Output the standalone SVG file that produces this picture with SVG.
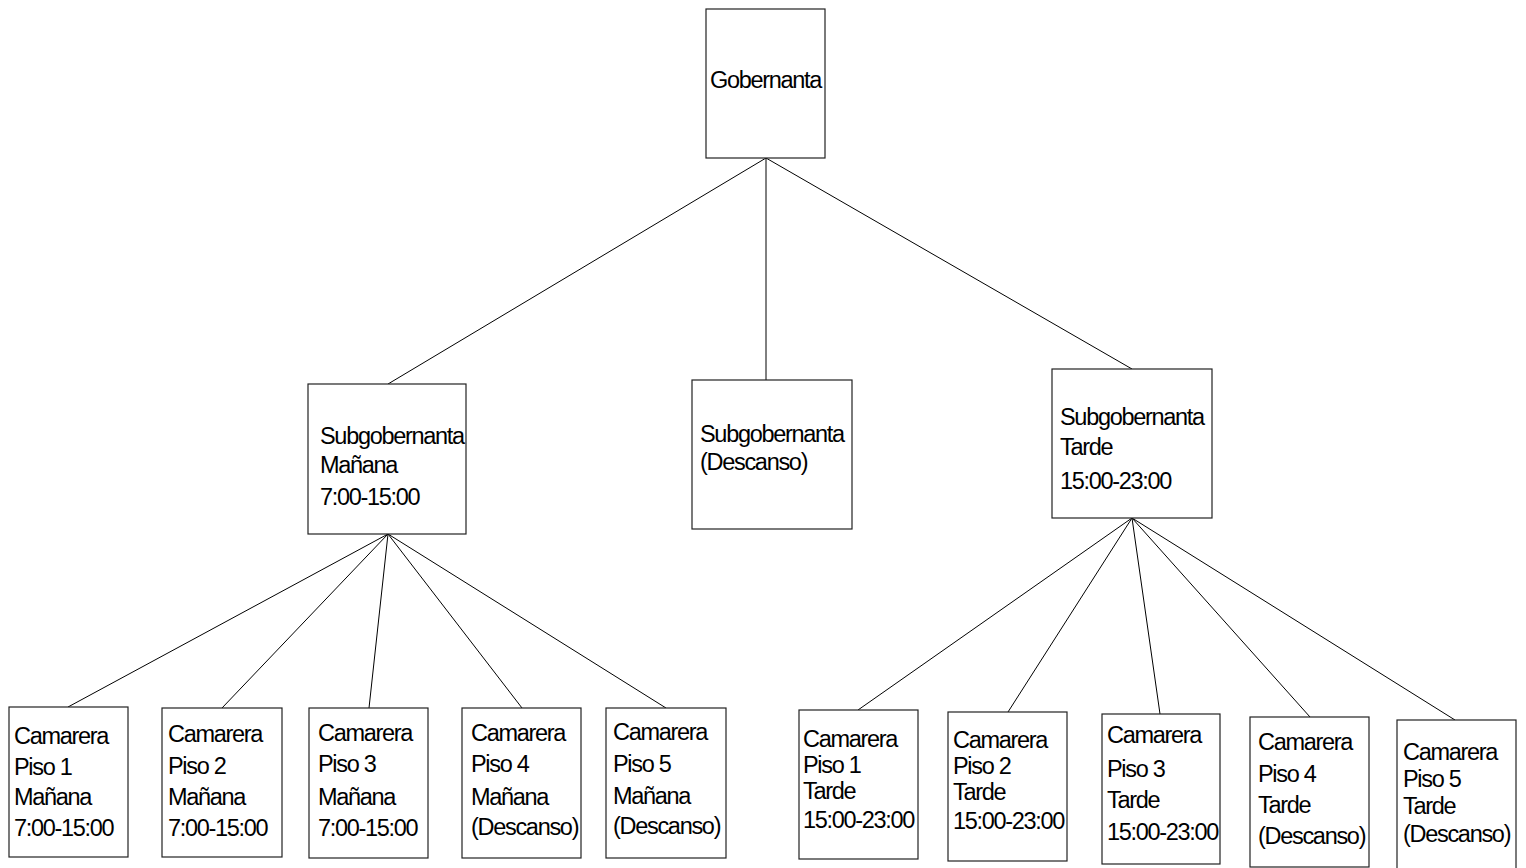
<svg xmlns="http://www.w3.org/2000/svg" width="1526" height="868" viewBox="0 0 1526 868">
<style>
rect{fill:#fff;stroke:#222;stroke-width:1.2}
line{stroke:#000;stroke-width:1}
text{font-family:"Liberation Sans",Arial,sans-serif;font-size:23.5px;fill:#000;letter-spacing:-1.3px}
</style>
<rect x="0" y="0" width="1526" height="868" style="stroke:none"/>
<g id="connectors">
<line x1="766" y1="158" x2="388" y2="384"/>
<line x1="766" y1="158" x2="766" y2="380"/>
<line x1="766" y1="158" x2="1132" y2="369"/>
<line x1="388" y1="534" x2="68" y2="707"/>
<line x1="388" y1="534" x2="222" y2="708"/>
<line x1="388" y1="534" x2="369" y2="708"/>
<line x1="388" y1="534" x2="522" y2="708"/>
<line x1="388" y1="534" x2="666" y2="708"/>
<line x1="1132" y1="518" x2="858" y2="710"/>
<line x1="1132" y1="518" x2="1008" y2="712"/>
<line x1="1132" y1="518" x2="1160" y2="714"/>
<line x1="1132" y1="518" x2="1310" y2="717"/>
<line x1="1132" y1="518" x2="1455" y2="720"/>
</g>
<g id="gobernanta">
<rect x="706" y="9" width="119" height="149"/>
<text x="710" y="88">Gobernanta</text>
</g>
<g id="sub-manana">
<rect x="308" y="384" width="158" height="150"/>
<text x="320" y="444">Subgobernanta</text>
<text x="320" y="473">Mañana</text>
<text x="320" y="505">7:00-15:00</text>
</g>
<g id="sub-descanso">
<rect x="692" y="380" width="160" height="149"/>
<text x="700" y="442">Subgobernanta</text>
<text x="700" y="470">(Descanso)</text>
</g>
<g id="sub-tarde">
<rect x="1052" y="369" width="160" height="149"/>
<text x="1060" y="425">Subgobernanta</text>
<text x="1060" y="455">Tarde</text>
<text x="1060" y="489">15:00-23:00</text>
</g>
<g id="m1">
<rect x="9" y="707" width="119" height="150"/>
<text x="14" y="744">Camarera</text>
<text x="14" y="775">Piso 1</text>
<text x="14" y="805">Mañana</text>
<text x="14" y="836">7:00-15:00</text>
</g>
<g id="m2">
<rect x="162" y="708" width="120" height="149"/>
<text x="168" y="742">Camarera</text>
<text x="168" y="774">Piso 2</text>
<text x="168" y="805">Mañana</text>
<text x="168" y="836">7:00-15:00</text>
</g>
<g id="m3">
<rect x="309" y="708" width="119" height="150"/>
<text x="318" y="741">Camarera</text>
<text x="318" y="772">Piso 3</text>
<text x="318" y="805">Mañana</text>
<text x="318" y="836">7:00-15:00</text>
</g>
<g id="m4">
<rect x="462" y="708" width="119" height="150"/>
<text x="471" y="741">Camarera</text>
<text x="471" y="772">Piso 4</text>
<text x="471" y="805">Mañana</text>
<text x="471" y="835">(Descanso)</text>
</g>
<g id="m5">
<rect x="606" y="708" width="120" height="150"/>
<text x="613" y="740">Camarera</text>
<text x="613" y="772">Piso 5</text>
<text x="613" y="804">Mañana</text>
<text x="613" y="834">(Descanso)</text>
</g>
<g id="t1">
<rect x="799" y="710" width="119" height="149"/>
<text x="803" y="747">Camarera</text>
<text x="803" y="773">Piso 1</text>
<text x="803" y="799">Tarde</text>
<text x="803" y="828">15:00-23:00</text>
</g>
<g id="t2">
<rect x="948" y="712" width="119" height="149"/>
<text x="953" y="748">Camarera</text>
<text x="953" y="774">Piso 2</text>
<text x="953" y="800">Tarde</text>
<text x="953" y="829">15:00-23:00</text>
</g>
<g id="t3">
<rect x="1102" y="714" width="118" height="150"/>
<text x="1107" y="743">Camarera</text>
<text x="1107" y="777">Piso 3</text>
<text x="1107" y="808">Tarde</text>
<text x="1107" y="840">15:00-23:00</text>
</g>
<g id="t4">
<rect x="1250" y="717" width="119" height="150"/>
<text x="1258" y="750">Camarera</text>
<text x="1258" y="782">Piso 4</text>
<text x="1258" y="813">Tarde</text>
<text x="1258" y="844">(Descanso)</text>
</g>
<g id="t5">
<rect x="1397" y="720" width="119" height="150"/>
<text x="1403" y="760">Camarera</text>
<text x="1403" y="787">Piso 5</text>
<text x="1403" y="814">Tarde</text>
<text x="1403" y="842">(Descanso)</text>
</g>
</svg>
